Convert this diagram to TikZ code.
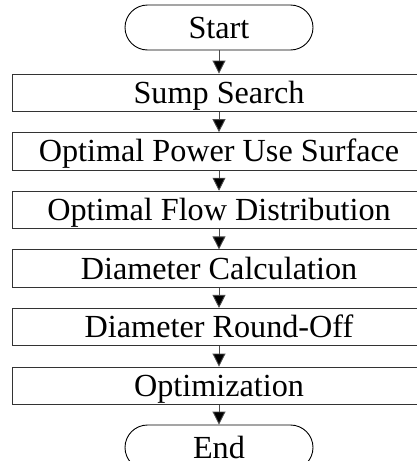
\documentclass[tikz,border=0pt]{standalone}
\usepackage{fontspec}
\setmainfont{Liberation Serif}
\usetikzlibrary{arrows.meta}
\begin{document}
\begin{tikzpicture}[x=1pt,y=-1pt,
  lbl/.style={inner sep=0pt, text height=21pt, text depth=0pt, font=\fontsize{32.2}{38}\selectfont},
  box/.style={lbl, draw=black!80, line width=0.9pt, minimum width=413pt, minimum height=37.5pt},
  term/.style={lbl, draw=black, line width=0.9pt, rounded corners=22.5pt, minimum width=188pt, minimum height=45pt},
  arr/.style={draw=black!70, line width=0.9pt, -{Triangle[width=13pt,length=13pt,fill=black]}}]
\useasboundingbox (0,0) rectangle (417,461);
\clip (0,0) rectangle (417,461);
\node[term] (start) at (219,27.5) {Start};
\node[box] (b1) at (219,92.75) {Sump Search};
\node[box] (b2) at (219,151.35) {Optimal Power Use Surface};
\node[box] (b3) at (219,209.95) {Optimal Flow Distribution};
\node[box] (b4) at (219,268.55) {Diameter Calculation};
\node[box] (b5) at (219,327.15) {Diameter Round-Off};
\node[box] (b6) at (219,385.75) {Optimization};
\node[term] (end) at (219,447.5) {End};
\draw[arr] (start) -- (b1);
\draw[arr] (b1) -- (b2);
\draw[arr] (b2) -- (b3);
\draw[arr] (b3) -- (b4);
\draw[arr] (b4) -- (b5);
\draw[arr] (b5) -- (b6);
\draw[arr] (b6) -- (end);
\end{tikzpicture}
\end{document}
